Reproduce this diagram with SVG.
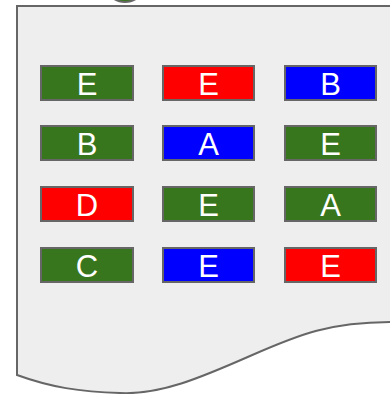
<svg xmlns="http://www.w3.org/2000/svg" width="390" height="394" viewBox="0 0 390 394">
  <style>
    .doc { fill: #eeeeee; stroke: #666666; stroke-width: 2; }
    .box { stroke: #666666; stroke-width: 2; }
    .g { fill: #38761d; }
    .r { fill: #ff0000; }
    .b { fill: #0000ff; }
    .lbl { fill: #ffffff; font-family: "Liberation Sans", Arial, sans-serif; font-size: 31px; text-anchor: middle; }
  </style>
  <!-- marker peeking over the top edge -->
  <ellipse cx="125" cy="-8" rx="15" ry="10" fill="#38761d" stroke="#666666" stroke-width="2"/>
  <!-- document sheet with wavy bottom -->
  <path class="doc" d="M17,6 H393 V322 C330,322 300,334 250,356 C200,378 160,395 120,393 C80,392 50,387 17,375 Z"/>
  <g id="connectors"/>
  <g id="n1"><rect class="box g" x="41" y="66" width="92" height="34"/><text class="lbl" x="87" y="95">E</text></g>
  <g id="n2"><rect class="box r" x="163" y="66" width="91" height="34"/><text class="lbl" x="208.5" y="95">E</text></g>
  <g id="n3"><rect class="box b" x="285" y="66" width="91" height="34"/><text class="lbl" x="330.5" y="95">B</text></g>
  <g id="n4"><rect class="box g" x="41" y="126" width="92" height="34"/><text class="lbl" x="87" y="155">B</text></g>
  <g id="n5"><rect class="box b" x="163" y="126" width="91" height="34"/><text class="lbl" x="208.5" y="155">A</text></g>
  <g id="n6"><rect class="box g" x="285" y="126" width="91" height="34"/><text class="lbl" x="330.5" y="155">E</text></g>
  <g id="n7"><rect class="box r" x="41" y="187" width="92" height="34"/><text class="lbl" x="87" y="216">D</text></g>
  <g id="n8"><rect class="box g" x="163" y="187" width="91" height="34"/><text class="lbl" x="208.5" y="216">E</text></g>
  <g id="n9"><rect class="box g" x="285" y="187" width="91" height="34"/><text class="lbl" x="330.5" y="216">A</text></g>
  <g id="n10"><rect class="box g" x="41" y="248" width="92" height="34"/><text class="lbl" x="87" y="277">C</text></g>
  <g id="n11"><rect class="box b" x="163" y="248" width="91" height="34"/><text class="lbl" x="208.5" y="277">E</text></g>
  <g id="n12"><rect class="box r" x="285" y="248" width="91" height="34"/><text class="lbl" x="330.5" y="277">E</text></g>
</svg>
